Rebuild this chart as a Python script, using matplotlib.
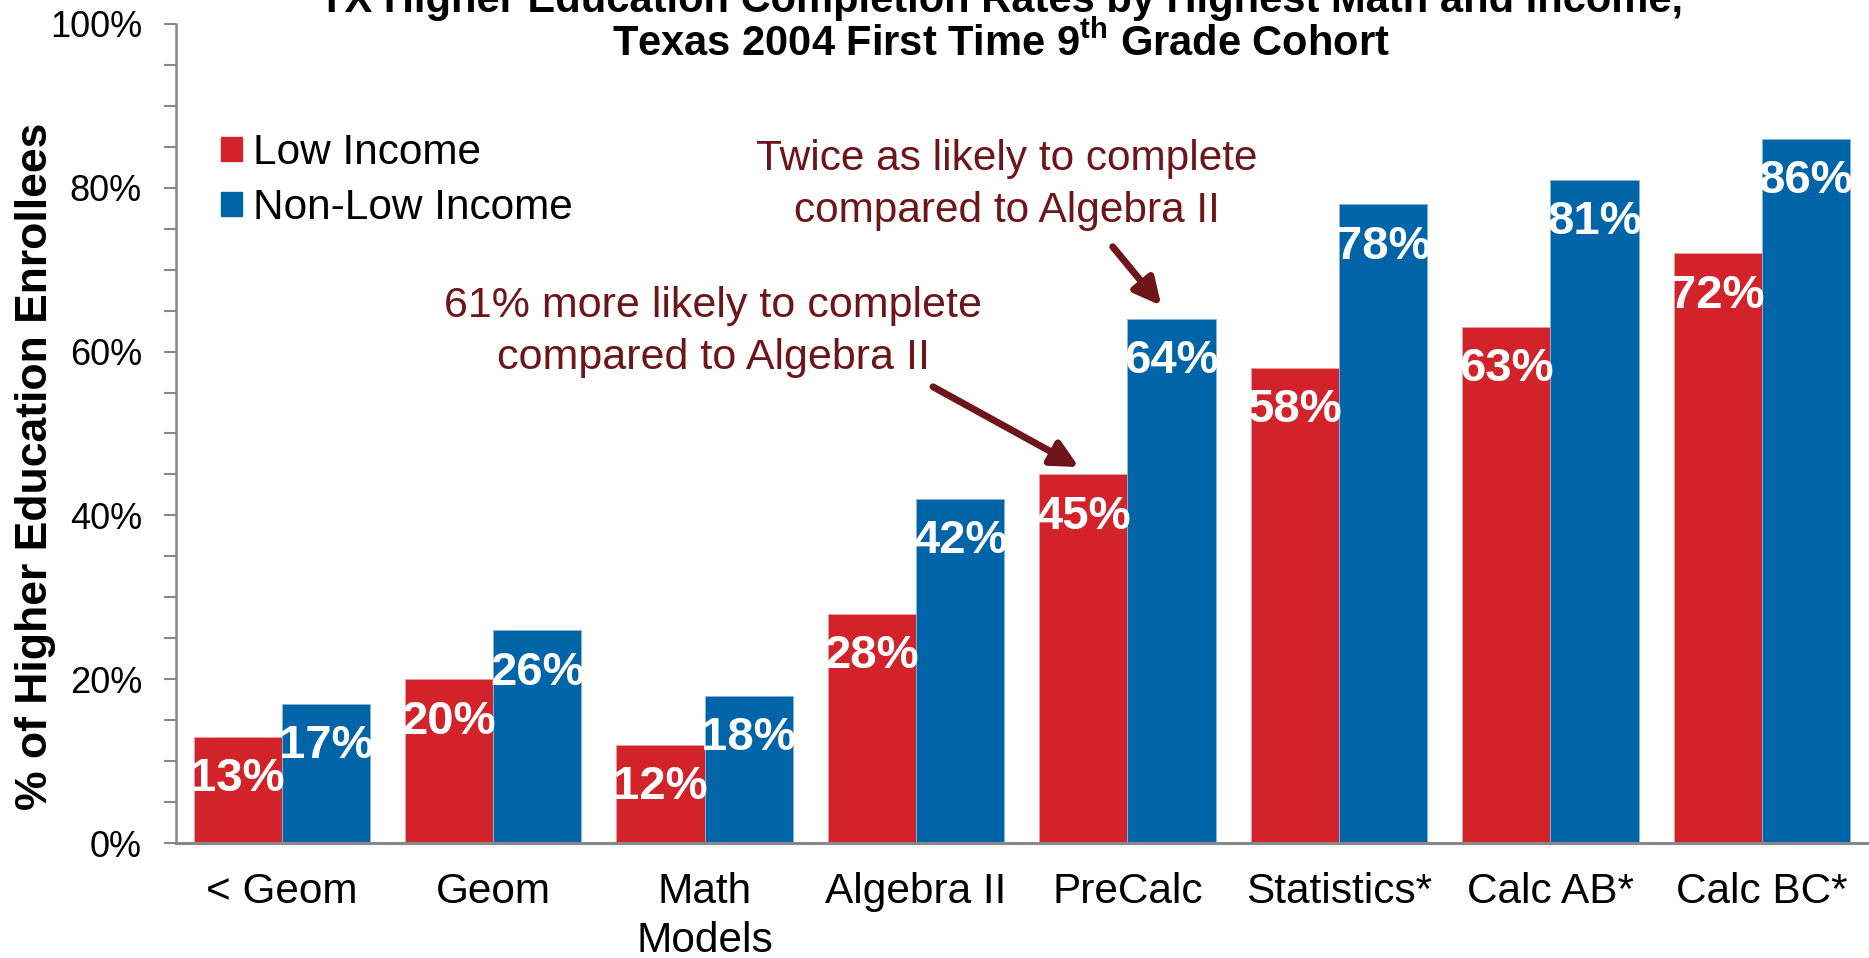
import matplotlib
matplotlib.use('Agg')
import matplotlib.pyplot as plt
import numpy as np
from matplotlib.patches import Patch

categories = ['< Geom', 'Geom', 'Math\nModels', 'Algebra II', 'PreCalc',
              'Statistics*', 'Calc AB*', 'Calc BC*']
low_income = [13, 20, 12, 28, 45, 58, 63, 72]
non_low_income = [17, 26, 18, 42, 64, 78, 81, 86]
series_names = ['Low Income', 'Non-Low Income']

RED = '#D2232A'
BLUE = '#0064A8'
NOTE = '#6E1519'

plt.rcParams['font.family'] = ['Liberation Sans', 'DejaVu Sans']
plt.rcParams['mathtext.fontset'] = 'custom'
plt.rcParams['mathtext.bf'] = 'Liberation Sans:bold'
plt.rcParams['mathtext.rm'] = 'Liberation Sans'

fig = plt.figure(figsize=(18.69, 9.58), dpi=100)
ax = fig.add_axes([0.0942, 0.12, 0.905, 0.855])

x = np.arange(len(categories))
w = 0.417
ax.bar(x - w / 2, low_income, w, color=RED, edgecolor='#E8A0A0', linewidth=0.6)
ax.bar(x + w / 2, non_low_income, w, color=BLUE, edgecolor='#8FB4D8', linewidth=0.6)

# value labels sit just inside the top of each bar
for xi, v in zip(x - w / 2, low_income):
    ax.text(xi, v - 2.5, '%d%%' % v, ha='center', va='top', color='white',
            fontsize=34, fontweight='bold')
for xi, v in zip(x + w / 2, non_low_income):
    ax.text(xi, v - 2.5, '%d%%' % v, ha='center', va='top', color='white',
            fontsize=34, fontweight='bold')

ax.set_xlim(-0.5, len(categories) - 0.5)
ax.set_ylim(0, 100)
ax.set_yticks(np.arange(0, 101, 20))
ax.set_yticks(np.arange(0, 101, 5), minor=True)
ax.set_yticklabels(['%d%%' % t for t in range(0, 101, 20)], fontsize=26)
ax.set_xticks(x)
ax.set_xticklabels(categories, fontsize=30.5, linespacing=1.28)
ax.tick_params(axis='x', length=0, pad=21)
ax.tick_params(axis='y', which='both', direction='out', length=8.6, width=1.5,
               color='#888888', pad=16)

for side in ['top', 'right']:
    ax.spines[side].set_visible(False)
ax.spines['left'].set_color('#888888')
ax.spines['bottom'].set_color('#888888')
ax.spines['left'].set_linewidth(1.8)
ax.spines['bottom'].set_linewidth(2.2)

ax.set_ylabel('% of Higher Education Enrollees', fontsize=32, fontweight='bold')
ax.yaxis.set_label_coords(-0.071, 0.46)

handles = [Patch(color=RED), Patch(color=BLUE)]
ax.legend(handles, series_names, loc='upper left', bbox_to_anchor=(0.004, 0.913),
          frameon=False, fontsize=30.5, handlelength=0.5, handleheight=0.5,
          handletextpad=0.25, labelspacing=0.35)

ax.text(3.43, 80.3, 'Twice as likely to complete\ncompared to Algebra II',
        ha='center', va='center', fontsize=30.5, color=NOTE, linespacing=1.38)
ax.text(2.04, 62.4, '61% more likely to complete\ncompared to Algebra II',
        ha='center', va='center', fontsize=31, color=NOTE, linespacing=1.38)

arrow = dict(arrowstyle='-|>', color=NOTE, lw=5, mutation_scale=40,
             shrinkA=0, shrinkB=0)
ax.annotate('', xy=(4.16, 65.6), xytext=(3.93, 72.8), arrowprops=arrow)
ax.annotate('', xy=(3.77, 45.9), xytext=(3.08, 55.7), arrowprops=arrow)

fig.text(0.5356, 0.999, 'TX Higher Education Completion Rates by Highest Math and Income,',
         ha='center', va='center', fontsize=30, fontweight='bold')
fig.text(0.5356, 0.955, r'Texas 2004 First Time 9$^{\mathbf{th}}$ Grade Cohort',
         ha='center', va='center', fontsize=30, fontweight='bold')

fig.savefig('out.png', dpi=100)
